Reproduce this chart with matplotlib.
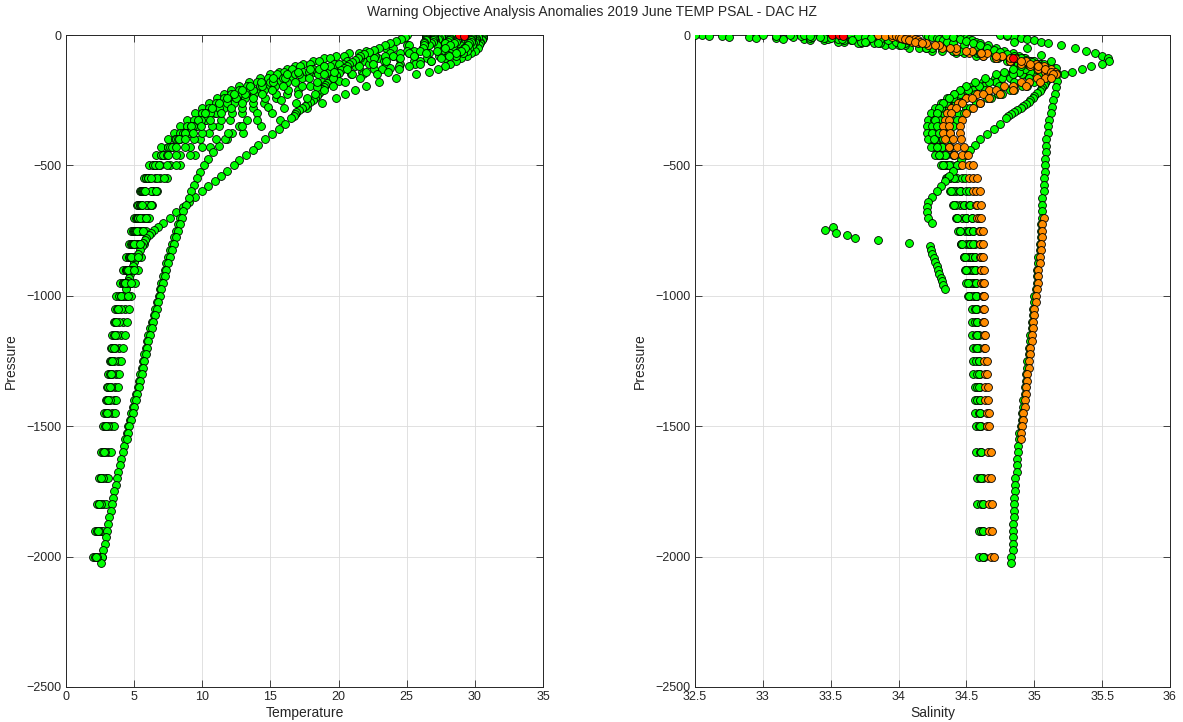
import matplotlib
matplotlib.use('Agg')
import matplotlib.pyplot as plt

plt.rcParams['font.family'] = ['Liberation Sans', 'DejaVu Sans']

# pressure levels (dbar) of the ordinary profiles
p_std = [0, 4, 8, 12, 16, 20, 25, 30, 40, 50, 60, 70, 80, 90, 100, 110, 120, 130, 140, 150,
         165, 180, 195, 210, 225, 240, 260, 280, 300, 325, 350, 375, 400, 430, 460, 500,
         550, 600, 650, 700, 750, 800, 850, 900, 950, 1000, 1050, 1100, 1150, 1200, 1250,
         1300, 1350, 1400, 1450, 1500, 1600, 1700, 1800, 1900, 2000]
# profiles that stop at 1000 dbar
p_mid = [0, 4, 8, 12, 16, 20, 25, 30, 40, 50, 60, 70, 80, 90, 100, 110, 120, 130, 140, 150,
         165, 180, 195, 210, 225, 240, 260, 280, 300, 325, 350, 375, 400, 430, 460, 500,
         550, 600, 650, 700, 750, 800, 850, 900, 950, 1000]

t_c1 = [28.0, 28.0, 27.9, 27.9, 27.8, 27.6, 27.2, 26.5, 25.0, 23.5, 22.0, 20.8, 19.8, 18.9, 18.1,
        17.4, 16.8, 16.2, 15.6, 15.0, 14.2, 13.4, 12.7, 12.1, 11.6, 11.1, 10.5, 10.0, 9.5, 8.9,
        8.4, 7.9, 7.5, 7.0, 6.6, 6.1, 5.7, 5.4, 5.2, 5.0, 4.8, 4.6, 4.4, 4.2, 3.95, 3.7, 3.6,
        3.5, 3.4, 3.3, 3.2, 3.1, 3.0, 2.9, 2.8, 2.7, 2.55, 2.4, 2.3, 2.15, 2.0]
s_c1 = [32.55, 32.7, 32.9, 33.1, 33.3, 33.45, 33.6, 33.72, 33.9, 34.08, 34.25, 34.42, 34.57,
        34.7, 34.8, 34.87, 34.92, 34.92, 34.88, 34.83, 34.75, 34.66, 34.58, 34.5, 34.44,
        34.38, 34.33, 34.29, 34.26, 34.24, 34.23, 34.23, 34.24, 34.26, 34.29, 34.33, 34.38,
        34.42, 34.45, 34.47, 34.49, 34.5, 34.51, 34.52, 34.53, 34.53, 34.54, 34.54, 34.54,
        34.55, 34.55, 34.55, 34.56, 34.56, 34.56, 34.57, 34.57, 34.58, 34.58, 34.59, 34.59]

t_c2 = [29.0, 29.0, 29.0, 29.0, 28.9, 28.9, 28.8, 28.7, 28.3, 27.5, 26.4, 25.2, 24.0, 22.9, 21.8,
        20.8, 19.9, 19.0, 18.2, 17.5, 16.5, 15.6, 14.8, 14.1, 13.5, 12.9, 12.2, 11.5, 10.9, 10.2,
        9.5, 8.9, 8.3, 7.7, 7.1, 6.5, 6.0, 5.7, 5.5, 5.3, 5.1, 4.9, 4.7, 4.4, 4.15, 3.9, 3.75,
        3.6, 3.5, 3.4, 3.3, 3.2, 3.1, 3.0, 2.9, 2.85, 2.7, 2.55, 2.4, 2.3, 2.15]
s_c2 = [33.0, 33.1, 33.22, 33.35, 33.48, 33.6, 33.72, 33.82, 34.0, 34.2, 34.4, 34.58, 34.74,
        34.87, 34.97, 35.04, 35.08, 35.05, 35.0, 34.93, 34.83, 34.72, 34.62, 34.54, 34.47,
        34.41, 34.36, 34.32, 34.29, 34.27, 34.26, 34.26, 34.27, 34.29, 34.32, 34.36, 34.41,
        34.45, 34.48, 34.5, 34.52, 34.53, 34.54, 34.55, 34.55, 34.56, 34.56, 34.56, 34.57,
        34.57, 34.57, 34.58, 34.58, 34.58, 34.59, 34.59, 34.6, 34.6, 34.61, 34.61, 34.62]

t_c3 = [30.2, 30.2, 30.2, 30.1, 30.1, 30.0, 30.0, 29.9, 29.8, 29.6, 29.4, 29.1, 28.6, 27.8, 26.8,
        25.6, 24.4, 23.2, 22.0, 21.0, 19.6, 18.4, 17.3, 16.3, 15.4, 14.6, 13.7, 12.9, 12.2, 11.4,
        10.7, 10.0, 9.4, 8.7, 8.1, 7.4, 6.7, 6.2, 5.9, 5.6, 5.4, 5.2, 5.0, 4.8, 4.5, 4.2, 4.05,
        3.9, 3.75, 3.6, 3.5, 3.4, 3.3, 3.2, 3.1, 3.05, 2.85, 2.7, 2.55, 2.45, 2.3]
s_c3 = [33.85, 33.9, 33.95, 34.0, 34.03, 34.06, 34.1, 34.14, 34.22, 34.32, 34.42, 34.52, 34.62,
        34.72, 34.82, 34.9, 34.97, 35.03, 35.08, 35.1, 35.02, 34.9, 34.78, 34.67, 34.58, 34.5,
        34.44, 34.39, 34.36, 34.34, 34.33, 34.33, 34.34, 34.37, 34.41, 34.47, 34.52, 34.55,
        34.57, 34.58, 34.59, 34.6, 34.6, 34.61, 34.61, 34.62, 34.62, 34.62, 34.63, 34.63,
        34.63, 34.64, 34.64, 34.64, 34.65, 34.65, 34.66, 34.66, 34.67, 34.67, 34.68]

t_c4 = [30.6, 30.6, 30.6, 30.6, 30.5, 30.5, 30.4, 30.4, 30.3, 30.2, 30.0, 29.7, 29.4, 29.0, 28.6,
        28.2, 27.8, 27.3, 26.6, 25.7, 24.2, 23.0, 22.0, 21.2, 20.5, 19.8, 18.8, 17.7, 16.9, 15.7,
        14.3, 13.0, 11.8, 10.6, 9.5, 8.4, 7.4, 6.7, 6.3, 5.95, 5.65, 5.4, 5.2, 5.0, 4.75, 4.5,
        4.35, 4.2, 4.05, 3.9, 3.8, 3.7, 3.6, 3.5, 3.4, 3.3, 3.1, 2.9, 2.75, 2.6, 2.5]
s_c4 = [34.75, 34.8, 34.85, 34.9, 34.95, 35.0, 35.05, 35.1, 35.2, 35.3, 35.38, 35.45, 35.5,
        35.54, 35.55, 35.5, 35.42, 35.35, 35.28, 35.22, 35.15, 35.05, 34.95, 34.85, 34.76,
        34.68, 34.6, 34.53, 34.48, 34.43, 34.4, 34.38, 34.37, 34.38, 34.4, 34.43, 34.47, 34.5,
        34.52, 34.54, 34.55, 34.56, 34.56, 34.57, 34.57, 34.58, 34.58, 34.58, 34.59, 34.59,
        34.59, 34.6, 34.6, 34.6, 34.6, 34.61, 34.61, 34.62, 34.62, 34.62, 34.63]

t_c5 = [26.4, 26.4, 26.4, 26.4, 26.4, 26.4, 26.3, 26.3, 26.3, 26.2, 26.0, 25.2, 24.0, 22.6, 21.2,
        20.0, 18.9, 17.9, 17.0, 16.2, 15.2, 14.3, 13.5, 12.9, 12.3, 11.8, 11.2, 10.7, 10.2, 9.7,
        9.2, 8.7, 8.3, 7.8, 7.4, 6.9, 6.5, 6.3, 6.2, 6.1, 5.9, 5.7, 5.5, 5.3, 5.05, 4.8, 4.6,
        4.45, 4.3, 4.15, 4.0, 3.9, 3.8, 3.7, 3.6, 3.5, 3.3, 3.1, 2.9, 2.75, 2.65]
s_c5 = [33.3, 33.35, 33.42, 33.5, 33.58, 33.66, 33.75, 33.85, 34.02, 34.2, 34.4, 34.6, 34.75,
        34.87, 34.94, 34.95, 34.9, 34.84, 34.78, 34.72, 34.64, 34.56, 34.5, 34.45, 34.41,
        34.37, 34.33, 34.3, 34.28, 34.27, 34.28, 34.3, 34.33, 34.37, 34.41, 34.45, 34.49,
        34.52, 34.53, 34.54, 34.55, 34.55, 34.56, 34.56, 34.57, 34.57, 34.57, 34.58, 34.58,
        34.58, 34.59, 34.59, 34.59, 34.6, 34.6, 34.6, 34.61, 34.61, 34.62, 34.62, 34.62]

t_c6 = [28.8, 28.8, 28.8, 28.8, 28.7, 28.7, 28.6, 28.5, 28.2, 27.8, 27.2, 26.4, 25.5, 24.5, 23.5,
        22.5, 21.5, 20.6, 19.7, 18.9, 17.8, 16.8, 15.9, 15.1, 14.4, 13.7, 12.9, 12.1, 11.4, 10.6,
        9.9, 9.3, 8.7, 8.1, 7.5, 6.8, 6.2, 5.8, 5.55, 5.4, 5.2, 5.0, 4.8, 4.55, 4.3, 4.0, 3.85,
        3.7, 3.6, 3.5, 3.4, 3.3, 3.2, 3.1, 3.0, 2.95, 2.8, 2.6, 2.45, 2.35, 2.2]
s_c6 = [34.05, 34.07, 34.09, 34.1, 34.12, 34.14, 34.16, 34.2, 34.3, 34.42, 34.54, 34.65, 34.76,
        34.86, 34.94, 35.01, 35.07, 35.12, 35.15, 35.16, 35.08, 34.96, 34.84, 34.72, 34.62,
        34.54, 34.47, 34.42, 34.39, 34.37, 34.37, 34.38, 34.4, 34.43, 34.47, 34.52, 34.55,
        34.57, 34.58, 34.59, 34.6, 34.6, 34.61, 34.61, 34.62, 34.62, 34.63, 34.63, 34.64,
        34.64, 34.65, 34.65, 34.66, 34.66, 34.67, 34.67, 34.68, 34.68, 34.69, 34.69, 34.7]

t_d1 = [27.5, 27.5, 27.5, 27.4, 27.3, 27.1, 26.8, 26.3, 25.2, 24.0, 22.7, 21.5, 20.4, 19.4, 18.6,
        17.9, 17.2, 16.6, 16.0, 15.5, 14.8, 14.0, 13.3, 12.7, 12.1, 11.6, 11.0, 10.5, 10.0, 9.4,
        8.9, 8.4, 8.0, 7.5, 7.0, 6.4, 5.9, 5.5, 5.3, 5.1, 4.95, 4.8, 4.6, 4.4, 4.2, 3.95]
s_d1 = [32.5, 32.6, 32.75, 32.95, 33.15, 33.35, 33.55, 33.7, 33.95, 34.15, 34.32, 34.48, 34.62,
        34.73, 34.82, 34.88, 34.9, 34.88, 34.84, 34.79, 34.71, 34.62, 34.54, 34.47, 34.41,
        34.36, 34.31, 34.27, 34.24, 34.22, 34.21, 34.21, 34.22, 34.24, 34.27, 34.31, 34.35,
        34.38, 34.4, 34.42, 34.44, 34.46, 34.48, 34.5, 34.51, 34.52]

t_d2 = [28.3, 28.3, 28.3, 28.2, 28.2, 28.1, 28.0, 27.8, 27.2, 26.2, 25.0, 23.8, 22.7, 21.6, 20.6,
        19.7, 18.9, 18.1, 17.4, 16.8, 15.9, 15.0, 14.2, 13.5, 12.9, 12.3, 11.6, 11.0, 10.4, 9.8,
        9.2, 8.6, 8.1, 7.5, 7.0, 6.4, 5.9, 5.6, 5.4, 5.2, 5.0, 4.85, 4.65, 4.45, 4.25, 4.05]
s_d2 = [33.2, 33.28, 33.36, 33.45, 33.55, 33.65, 33.76, 33.86, 34.05, 34.25, 34.45, 34.62,
        34.76, 34.88, 34.96, 35.01, 35.03, 35.01, 34.97, 34.91, 34.82, 34.72, 34.63, 34.55,
        34.48, 34.42, 34.36, 34.32, 34.29, 34.27, 34.26, 34.26, 34.27, 34.29, 34.31, 34.34,
        34.37, 34.4, 34.42, 34.43, 34.45, 34.46, 34.48, 34.49, 34.5, 34.51]

t_d3 = [29.5, 29.5, 29.5, 29.5, 29.4, 29.4, 29.3, 29.2, 28.9, 28.4, 27.6, 26.6, 25.5, 24.4, 23.3,
        22.2, 21.2, 20.2, 19.3, 18.5, 17.3, 16.2, 15.3, 14.5, 13.8, 13.1, 12.3, 11.6, 11.0, 10.3,
        9.6, 9.0, 8.4, 7.8, 7.2, 6.6, 6.0, 5.65, 5.45, 5.25, 5.05, 4.9, 4.7, 4.5, 4.3, 4.1]
s_d3 = [33.65, 33.7, 33.75, 33.8, 33.86, 33.92, 33.98, 34.05, 34.2, 34.38, 34.55, 34.7, 34.82,
        34.92, 34.99, 35.05, 35.09, 35.1, 35.09, 35.05, 34.96, 34.85, 34.74, 34.64, 34.56,
        34.49, 34.42, 34.37, 34.33, 34.3, 34.29, 34.29, 34.3, 34.32, 34.35, 34.39, 34.43,
        34.46, 34.48, 34.5, 34.51, 34.52, 34.53, 34.54, 34.55, 34.55]

t_d4 = [30.0, 30.0, 30.0, 29.9, 29.9, 29.9, 29.8, 29.7, 29.5, 29.2, 28.8, 28.2, 27.4, 26.5, 25.5,
        24.5, 23.5, 22.6, 21.7, 20.9, 19.8, 18.8, 17.9, 17.0, 16.2, 15.4, 14.5, 13.7, 12.9, 12.0,
        11.2, 10.5, 9.8, 9.1, 8.4, 7.6, 6.9, 6.4, 6.0, 5.7, 5.45, 5.25, 5.05, 4.85, 4.65, 4.4]
s_d4 = [34.2, 34.22, 34.25, 34.28, 34.3, 34.33, 34.36, 34.4, 34.48, 34.57, 34.66, 34.75, 34.84,
        34.92, 35.0, 35.07, 35.12, 35.15, 35.16, 35.14, 35.08, 35.0, 34.91, 34.82, 34.73,
        34.65, 34.57, 34.5, 34.44, 34.39, 34.35, 34.33, 34.32, 34.32, 34.34, 34.37, 34.41,
        34.45, 34.48, 34.5, 34.52, 34.53, 34.54, 34.55, 34.56, 34.57]

t_d5 = [27.0, 27.0, 27.0, 27.0, 27.0, 26.9, 26.9, 26.8, 26.6, 26.2, 25.5, 24.5, 23.4, 22.3, 21.3,
        20.3, 19.4, 18.6, 17.8, 17.1, 16.1, 15.2, 14.4, 13.7, 13.1, 12.5, 11.8, 11.2, 10.6, 9.9,
        9.3, 8.7, 8.2, 7.6, 7.1, 6.5, 6.0, 5.7, 5.5, 5.3, 5.15, 5.0, 4.8, 4.6, 4.4, 4.2]
s_d5 = [34.45, 34.46, 34.48, 34.5, 34.52, 34.54, 34.57, 34.6, 34.66, 34.72, 34.78, 34.84, 34.89,
        34.93, 34.96, 34.97, 34.96, 34.93, 34.89, 34.84, 34.76, 34.67, 34.59, 34.51, 34.45,
        34.4, 34.35, 34.31, 34.28, 34.26, 34.25, 34.25, 34.26, 34.28, 34.3, 34.33, 34.36,
        34.39, 34.41, 34.43, 34.45, 34.47, 34.49, 34.5, 34.51, 34.52]

t_d6 = [29.8, 29.8, 29.8, 29.8, 29.7, 29.7, 29.7, 29.6, 29.5, 29.3, 29.0, 28.6, 28.1, 27.5, 26.8,
        26.0, 25.2, 24.4, 23.6, 22.8, 21.6, 20.5, 19.6, 18.9, 18.3, 17.7, 16.9, 16.0, 15.1, 14.0,
        12.9, 11.9, 11.0, 10.0, 9.1, 8.1, 7.2, 6.6, 6.2, 5.9, 5.65, 5.45, 5.25, 5.0, 4.8, 4.55]
s_d6 = [33.95, 33.98, 34.0, 34.02, 34.05, 34.08, 34.12, 34.17, 34.27, 34.38, 34.5, 34.61, 34.72,
        34.82, 34.9, 34.97, 35.03, 35.08, 35.12, 35.14, 35.12, 35.04, 34.94, 34.84, 34.75,
        34.67, 34.6, 34.55, 34.5, 34.47, 34.45, 34.45, 34.46, 34.48, 34.51, 34.55, 34.58,
        34.6, 34.61, 34.61, 34.62, 34.62, 34.62, 34.63, 34.63, 34.63]

# high resolution profile (every 25 dbar down to 2025)
p_hr = [0, 25, 50, 75, 100, 125, 150, 175, 200, 225, 250, 275, 300, 325, 350, 375, 400, 425,
        450, 475, 500, 525, 550, 575, 600, 625, 650, 675, 700, 725, 750, 775, 800, 825, 850,
        875, 900, 925, 950, 975, 1000, 1025, 1050, 1075, 1100, 1125, 1150, 1175, 1200, 1225,
        1250, 1275, 1300, 1325, 1350, 1375, 1400, 1425, 1450, 1475, 1500, 1525, 1550, 1575,
        1600, 1625, 1650, 1675, 1700, 1725, 1750, 1775, 1800, 1825, 1850, 1875, 1900, 1925,
        1950, 1975, 2000, 2025]
t_hr = [29.6, 29.5, 29.2, 28.0, 26.0, 23.8, 21.8, 20.0, 18.4, 17.0, 15.8, 14.8, 14.0, 13.3,
        12.7, 12.2, 11.7, 11.2, 10.8, 10.4, 10.1, 9.85, 9.6, 9.4, 9.2, 9.0, 8.8, 8.6, 8.4, 8.25,
        8.1, 7.95, 7.8, 7.65, 7.5, 7.37, 7.25, 7.12, 7.0, 6.9, 6.8, 6.67, 6.55, 6.42, 6.3, 6.17,
        6.05, 5.95, 5.85, 5.75, 5.65, 5.55, 5.45, 5.35, 5.25, 5.12, 5.0, 4.9, 4.8, 4.67, 4.55,
        4.45, 4.35, 4.25, 4.15, 4.05, 3.95, 3.85, 3.75, 3.65, 3.55, 3.47, 3.38, 3.28, 3.18, 3.08,
        3.0, 2.92, 2.83, 2.75, 2.67, 2.6]
s_hr = [34.8, 34.85, 34.95, 35.05, 35.12, 35.16, 35.17, 35.17, 35.16, 35.15, 35.14, 35.13,
        35.12, 35.11, 35.1, 35.1, 35.09, 35.09, 35.09, 35.08, 35.08, 35.08, 35.07, 35.07, 35.07,
        35.06, 35.06, 35.06, 35.06, 35.05, 35.05, 35.05, 35.04, 35.04, 35.03, 35.03, 35.02,
        35.02, 35.02, 35.01, 35.0, 35.0, 34.99, 34.99, 34.98, 34.98, 34.97, 34.97, 34.96, 34.96,
        34.95, 34.95, 34.94, 34.94, 34.93, 34.93, 34.92, 34.92, 34.91, 34.91, 34.9, 34.89,
        34.89, 34.88, 34.88, 34.87, 34.87, 34.87, 34.86, 34.86, 34.86, 34.85, 34.85, 34.85,
        34.85, 34.84, 34.84, 34.84, 34.84, 34.84, 34.83, 34.83]

# second deep profile, salinity flagged orange
p_hr2 = [700, 725, 750, 775, 800, 825, 850, 875, 900, 925, 950, 975, 1000, 1025, 1050, 1075,
         1100, 1125, 1150, 1175, 1200, 1225, 1250, 1275, 1300, 1325, 1350, 1375, 1400, 1425,
         1450, 1475, 1500, 1525, 1550]
t_hr2 = [8.5, 8.35, 8.2, 8.05, 7.9, 7.75, 7.6, 7.48, 7.35, 7.23, 7.1, 7.0, 6.9, 6.78, 6.65,
         6.53, 6.4, 6.28, 6.15, 6.05, 5.95, 5.85, 5.75, 5.65, 5.55, 5.45, 5.35, 5.23, 5.1, 5.0,
         4.9, 4.78, 4.65, 4.55, 4.45]
s_hr2 = [35.07, 35.06, 35.06, 35.06, 35.05, 35.05, 35.04, 35.04, 35.03, 35.03, 35.03, 35.02,
         35.01, 35.01, 35.0, 35.0, 34.99, 34.99, 34.98, 34.98, 34.97, 34.97, 34.96, 34.96,
         34.95, 34.95, 34.94, 34.94, 34.93, 34.93, 34.92, 34.92, 34.91, 34.9, 34.9]

# profile with the isolated branch (and the bad salinity near 750 dbar)
p_br = [0, 8, 16, 24, 32, 40, 48, 56, 64, 72, 80, 88, 96, 104, 112, 120, 128, 136, 144, 152,
        160, 168, 176, 184, 192, 200, 208, 216, 224, 232, 240, 248, 256, 264, 272, 280, 288,
        296, 304, 312, 320, 340, 360, 380, 400, 420, 440, 460, 480, 500, 520, 540, 560, 580,
        600, 620, 640, 660, 680, 700, 720, 735, 748, 760, 767, 780, 786, 797, 810, 825, 840,
        855, 870, 885, 900, 915, 930, 945, 960, 975]
t_br = [25.0, 24.9, 24.6, 24.2, 23.8, 23.4, 23.0, 22.6, 22.2, 21.9, 21.6, 21.4, 21.2, 21.0,
        20.8, 20.6, 20.4, 20.2, 20.0, 19.8, 19.6, 19.45, 19.3, 19.15, 19.0, 18.9, 18.8, 18.7,
        18.55, 18.4, 18.3, 18.1, 17.9, 17.7, 17.5, 17.3, 17.1, 16.9, 16.8, 16.7, 16.5, 16.1,
        15.6, 15.1, 14.6, 14.1, 13.7, 13.2, 12.7, 12.3, 11.8, 11.4, 10.9, 10.4, 10.0, 9.5, 9.0,
        8.6, 8.1, 7.6, 7.1, 6.75, 6.45, 6.2, 6.08, 5.9, 5.82, 5.68, 5.55, 5.4, 5.25, 5.12, 5.0,
        4.9, 4.8, 4.7, 4.6, 4.52, 4.45, 4.38]
s_br = [34.35, 34.4, 34.45, 34.5, 34.55, 34.6, 34.65, 34.7, 34.75, 34.8, 34.85, 34.9, 34.94,
        34.98, 35.01, 35.04, 35.06, 35.08, 35.09, 35.1, 35.1, 35.1, 35.09, 35.08, 35.07, 35.06,
        35.05, 35.04, 35.02, 35.0, 34.99, 34.97, 34.96, 34.94, 34.92, 34.9, 34.87, 34.85,
        34.83, 34.81, 34.79, 34.75, 34.7, 34.65, 34.6, 34.56, 34.53, 34.5, 34.46, 34.43, 34.4,
        34.37, 34.34, 34.31, 34.28, 34.25, 34.22, 34.21, 34.21, 34.22, 34.25, 33.52, 33.46,
        33.54, 33.62, 33.68, 33.85, 34.08, 34.23, 34.24, 34.25, 34.26, 34.27, 34.28, 34.29,
        34.3, 34.31, 34.32, 34.33, 34.34]

# values flagged red
red_t_p = [0, 2]
red_t = [28.8, 29.2]
red_s_p = [0, 1, 2, 89]
red_s = [33.51, 33.56, 33.59, 34.84]

GREEN = '#00FF00'
ORANGE = '#FF8C00'
RED = '#FF0000'

# (pressure, temperature, salinity, salinity colour)
profiles = [
    (p_std, t_c1, s_c1, GREEN),
    (p_mid, t_d1, s_d1, GREEN),
    (p_std, t_c2, s_c2, GREEN),
    (p_mid, t_d2, s_d2, GREEN),
    (p_mid, t_d3, s_d3, GREEN),
    (p_mid, t_d4, s_d4, GREEN),
    (p_mid, t_d5, s_d5, GREEN),
    (p_std, t_c4, s_c4, GREEN),
    (p_std, t_c5, s_c5, GREEN),
    (p_br, t_br, s_br, GREEN),
    (p_hr, t_hr, s_hr, GREEN),
    (p_std, t_c3, s_c3, ORANGE),
    (p_std, t_c6, s_c6, ORANGE),
    (p_mid, t_d6, s_d6, ORANGE),
    (p_hr2, t_hr2, s_hr2, ORANGE),
]

fig = plt.figure(figsize=(11.83, 7.22), dpi=100)
ax1 = fig.add_axes([0.0558, 0.0485, 0.4032, 0.903])
ax2 = fig.add_axes([0.5875, 0.0485, 0.4015, 0.903])

mk = dict(s=32, marker='o', edgecolors='black', linewidths=0.6, zorder=3)

for p, t, s, c in profiles:
    ax1.scatter(t, [-v for v in p], c=GREEN, **mk)
for p, t, s, c in profiles:
    if c == GREEN:
        ax2.scatter(s, [-v for v in p], c=c, **mk)
for p, t, s, c in profiles:
    if c == ORANGE:
        ax2.scatter(s, [-v for v in p], c=c, **mk)

ax1.scatter(red_t, [-v for v in red_t_p], c=RED, **mk)
ax2.scatter(red_s, [-v for v in red_s_p], c=RED, **mk)

for ax, xlim, xt, xl, xlab in [
        (ax1, (0, 35), range(0, 36, 5), [str(v) for v in range(0, 36, 5)], 'Temperature'),
        (ax2, (32.5, 36), [32.5, 33, 33.5, 34, 34.5, 35, 35.5, 36],
         ['32.5', '33', '33.5', '34', '34.5', '35', '35.5', '36'], 'Salinity')]:
    ax.set_xlim(*xlim)
    ax.set_ylim(-2500, 0)
    ax.set_xticks(list(xt))
    ax.set_xticklabels(xl)
    ax.set_yticks(range(-2500, 1, 500))
    ax.grid(True, color='#DCDCDC', linewidth=0.6, zorder=0)
    ax.set_axisbelow(True)
    ax.tick_params(direction='in', top=True, right=True, length=5, width=0.6,
                   labelsize=9, colors='#262626', pad=3)
    for sp in ax.spines.values():
        sp.set_color('#262626')
        sp.set_linewidth(0.7)
    ax.set_xlabel(xlab, fontsize=10, color='#262626', labelpad=2)
    ax.set_ylabel('Pressure', fontsize=10, color='#262626', labelpad=6)

fig.text(0.5, 0.983, 'Warning Objective Analysis Anomalies 2019 June TEMP PSAL - DAC HZ',
         ha='center', va='center', fontsize=10, color='#262626')

fig.savefig('out.png', dpi=100)
